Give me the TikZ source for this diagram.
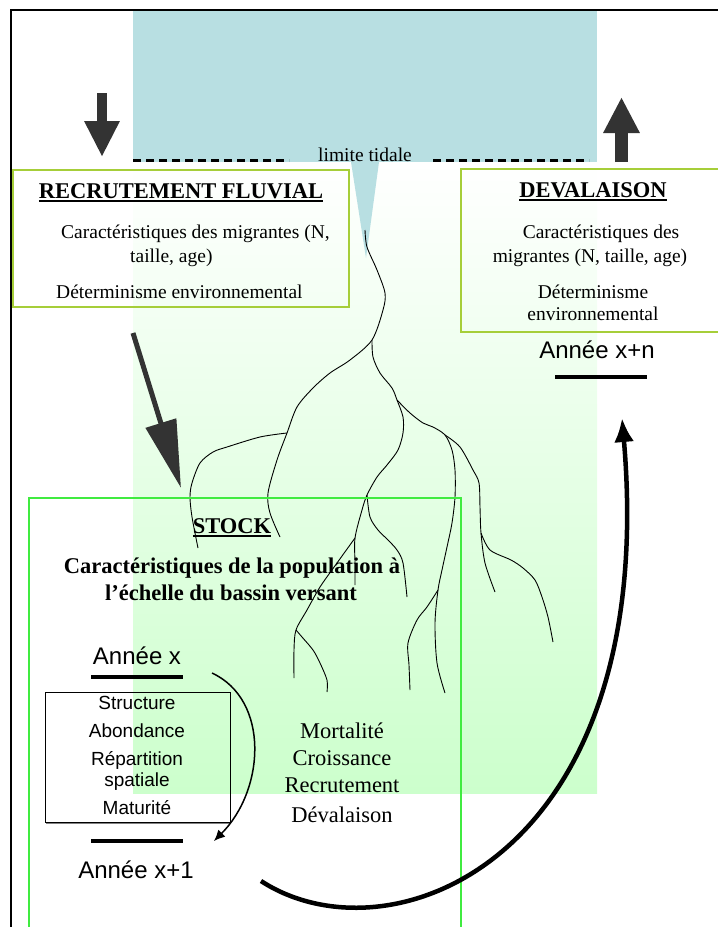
\documentclass[tikz,border=0pt]{standalone}
\usepackage{fontspec}
\setmainfont{Liberation Serif}
\newfontfamily\arialfont{Liberation Sans}
\usetikzlibrary{arrows.meta}

\definecolor{mer}{RGB}{184,223,226}
\definecolor{bassin}{RGB}{204,255,204}
\definecolor{cadre}{RGB}{166,206,57}
\definecolor{cadrestock}{RGB}{64,235,64}
\definecolor{fleche}{RGB}{51,51,51}

\newcommand\corps{\fontsize{19.5}{24}\selectfont}
\newcommand\gros{\fontsize{22.5}{27}\selectfont}
\newcommand\annee{\arialfont\fontsize{24}{28}\selectfont}
\newcommand\petit{\arialfont\fontsize{19}{16}\selectfont}
\newcommand\souligne[1]{\leavevmode\setbox0\hbox{#1}\rlap{\rule[-3.5pt]{\wd0}{1.8pt}}\box0}

\tikzset{
  txt/.style={inner sep=0pt, anchor=base},
  txtw/.style={inner sep=0pt, anchor=base west},
  boite/.style={draw=cadre, line width=1.2pt},
  riviere/.style={line width=0.9pt, line join=round},
  barre/.style={line width=4pt},
  pointille/.style={line width=3pt, dash pattern=on 8pt off 5pt},
}

\begin{document}
\begin{tikzpicture}[x=1pt,y=-1pt]
\useasboundingbox (0,0) rectangle (718,927);

% fond : mer et bassin versant
\fill[mer] (133,10) rectangle (597,162);
\shade[top color=white, bottom color=bassin] (133,162) rectangle (597,793);
\fill[mer] (351,162) -- (379,162) -- (366,258) -- cycle;
\draw[line width=2pt] (11,927) -- (11,10) -- (718,10);

% limite tidale
\draw[pointille] (133,160) -- (289,160);
\draw[pointille] (433,160) -- (589,160);
\node[txt] (tidale) at (365,161) {\corps limite tidale};

% riviere
\draw[riviere] plot[smooth] coordinates {(365,230) (367,247) (377,270) (385,293) (383,310) (372,340) (350,360) (330,373) (313,388) (297,407) (287,433) (277,460) (268,493) (270,513) (280,537)};
\draw[riviere] plot[smooth] coordinates {(287,433) (260,437) (227,447) (213,452) (200,463) (192,483) (190,497) (192,517) (198,548)};
\draw[riviere] plot[smooth] coordinates {(372,340) (373,357) (380,373) (392,388) (397,400) (403,417) (403,433) (398,450) (387,465) (377,477) (367,495) (362,510) (355,538) (355,563) (355,585)};
\draw[riviere] plot[smooth] coordinates {(355,538) (337,563) (320,587) (307,610) (296,630) (294,650) (294,678)};
\draw[riviere] plot[smooth] coordinates {(296,630) (302,637) (313,650) (320,663) (327,680) (327,692)};
\draw[riviere] plot[smooth] coordinates {(367,495) (370,517) (378,530) (388,540) (397,550) (403,563) (407,597)};
\draw[riviere] plot[smooth] coordinates {(397,400) (410,413) (423,423) (433,427) (445,435) (452,450) (455,470) (455,497) (452,523) (447,547) (442,570) (438,590) (435,623) (437,663) (445,693)};
\draw[riviere] plot[smooth] coordinates {(438,590) (427,607) (417,620) (408,643) (409,665) (410,690)};
\draw[riviere] plot[smooth] coordinates {(445,435) (460,447) (473,470) (479,483) (480,507) (481,533) (485,563) (495,592)};
\draw[riviere] plot[smooth] coordinates {(481,533) (490,550) (511,560) (523,568) (535,580) (542,597) (548,617) (553,642)};

% fleches de migration
\draw[line width=10pt, -{Triangle[length=36pt,width=33pt]}, fleche] (102,93) -- (102,157);
\draw[line width=13pt, -{Triangle[length=36pt,width=34pt]}, fleche] (621.5,162) -- (621.5,97);

% recrutement fluvial
\draw[boite] (13,170) rectangle (349,307);
\node[txt] (recrtitre) at (181,198) {\gros\bfseries\souligne{RECRUTEMENT FLUVIAL}};
\node[txtw] (recrcar) at (61,238) {\corps Caractéristiques des migrantes (N,};
\node[txtw] (recrtaille) at (130,262) {\corps taille, age)};
\node[txtw] (recrdet) at (56,298) {\corps Déterminisme environnemental};

% devalaison
\draw[boite] (725,169) -- (461,169) -- (461,332) -- (725,332);
\node[txt] (devtitre) at (593,197) {\gros\bfseries\souligne{DEVALAISON}};
\node[txt] (devcar) at (601,238) {\corps Caractéristiques des};
\node[txt] (devmig) at (590,262) {\corps migrantes (N, taille, age)};
\node[txt] (devdet) at (593,298) {\corps Déterminisme};
\node[txt] (devenv) at (593,320) {\corps environnemental};
\node[txt] (anneen) at (597,358) {\annee Année x+n};
\draw[barre] (555,377) -- (647,377);

% stock
\draw[draw=cadrestock, line width=1.2pt] (29,927) -- (29,498) -- (461,498) -- (461,927);
\node[txt] (stocktitre) at (232,533) {\gros\bfseries\souligne{STOCK}};
\node[txt] (stockpop) at (232,573) {\gros\bfseries Caractéristiques de la population à};
\node[txt] (stockbv) at (231,600) {\gros\bfseries l’échelle du bassin versant};

\coordinate (recrbas) at (133,333);
\coordinate (stockhaut) at (181,488);
\draw[line width=5pt, fleche, -{Triangle[length=68pt,width=31pt]}] (recrbas) -- (stockhaut);

% annee x
\node[txt] (anneex) at (137,664) {\annee Année x};
\draw[barre] (91,677) -- (183,677);
\draw[line width=0.9pt] (45,692) rectangle (230,822);
\draw[gray, line width=1.5pt] (46,823.5) -- (231,823.5);
\node[txt] (structure) at (137,709) {\petit Structure};
\node[txt] (abondance) at (137,737) {\petit Abondance};
\node[txt] (repartition) at (137,765) {\petit Répartition};
\node[txt] (spatiale) at (137,786) {\petit spatiale};
\node[txt] (maturite) at (137,814) {\petit Maturité};
\draw[barre] (91,841) -- (183,841);
\node[txt] (anneex1) at (136,878) {\annee Année x+1};

\node[txt] (mortalite) at (342,738) {\gros Mortalité};
\node[txt] (croissance) at (342,765) {\gros Croissance};
\node[txt] (recrutement) at (342,792) {\gros Recrutement};
\node[txt] (devalaison) at (342,822) {\gros Dévalaison};

% cycles
\coordinate (cycdep) at (212,673);
\coordinate (cycfin) at (214,841);
\draw[line width=1.5pt, -{Latex[length=11pt,width=10pt]}] (cycdep) .. controls (270,700) and (265,790) .. (cycfin);
\coordinate (arcdep) at (261,881);
\coordinate (arcfin) at (622,418);
\draw[line width=4.5pt, -{Latex[length=24pt,width=20pt]}] (arcdep) .. controls (390,965) and (660,860) .. (arcfin);
\end{tikzpicture}
\end{document}
